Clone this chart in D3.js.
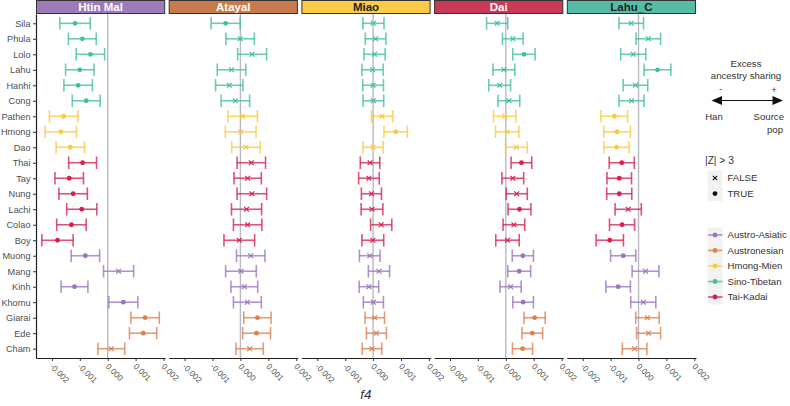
<!DOCTYPE html>
<html>
<head>
<meta charset="utf-8">
<script src="https://cdn.jsdelivr.net/npm/d3@7"></script>
<style>
  html, body { margin: 0; padding: 0; background: #fff; }
  svg { display: block; font-family: "Liberation Sans", Arial, sans-serif; }
</style>
</head>
<body>
<svg id="chart" width="790" height="406"></svg>
<script>
// ---------------- DATA ----------------
const populations = ["Sila","Phula","Lolo","Lahu","Hanhi","Cong","Pathen","Hmong","Dao",
  "Thai","Tay","Nung","Lachi","Colao","Boy","Muong","Mang","Kinh","Khomu","Giarai","Ede","Cham"];
const populationFamily = ["Sino-Tibetan","Sino-Tibetan","Sino-Tibetan","Sino-Tibetan","Sino-Tibetan","Sino-Tibetan",
  "Hmong-Mien","Hmong-Mien","Hmong-Mien",
  "Tai-Kadai","Tai-Kadai","Tai-Kadai","Tai-Kadai","Tai-Kadai","Tai-Kadai",
  "Austro-Asiatic","Austro-Asiatic","Austro-Asiatic","Austro-Asiatic",
  "Austronesian","Austronesian","Austronesian"];
const sourcePops = ["Htin Mal","Atayal","Miao","Dai","Lahu_C"];
const families = ["Austro-Asiatic","Austronesian","Hmong-Mien","Sino-Tibetan","Tai-Kadai"];
const familyColors = ["#9b74c0","#e07f4c","#fcc83e","#40bf9f","#d6214f"];
const stripColors = ["#9d7bb9","#c97a4d","#fdcb45","#c93a57","#55bda6"];
const stripTextColors = ["#ffffff","#ffffff","#222222","#ffffff","#222222"];
const xTicks = [-0.002, -0.001, 0, 0.001, 0.002];

// f4 estimates per source population (rows follow `populations`)
const f4HtinMal = [-0.00117,-0.00091,-0.00062,-0.00100,-0.00106,-0.00077,-0.00158,-0.00168,-0.00134,
  -0.00090,-0.00138,-0.00124,-0.00093,-0.00130,-0.00180,-0.00080,0.00039,-0.00119,0.00056,0.00134,0.00127,0.00013];
const f4Atayal = [-0.00053,-0.00001,0.00042,-0.00032,-0.00040,-0.00018,0.00008,0.00001,0.00020,
  0.00039,0.00026,0.00041,0.00022,0.00026,-0.00004,0.00037,0.00002,0.00014,0.00025,0.00061,0.00058,0.00033];
const f4Miao = [0.00001,0.00009,0.00005,-0.00002,0.00000,0.00001,0.00032,0.00081,0.00000,
  -0.00011,-0.00015,-0.00006,-0.00004,0.00029,-0.00001,-0.00012,0.00021,-0.00015,0.00001,0.00006,0.00012,-0.00004];
const f4Dai = [-0.00031,0.00025,0.00065,-0.00007,-0.00022,0.00011,-0.00004,0.00005,0.00038,
  0.00056,0.00025,0.00039,0.00049,0.00029,0.00006,0.00061,0.00048,0.00017,0.00062,0.00103,0.00095,0.00060];
const f4LahuC = [-0.00026,0.00035,-0.00019,0.00068,-0.00011,-0.00025,-0.00087,-0.00077,-0.00079,
  -0.00060,-0.00069,-0.00069,-0.00037,-0.00059,-0.00103,-0.00055,0.00025,-0.00073,0.00017,0.00032,0.00036,-0.00014];

// half-widths of the error bars
const ciHtinMal = [0.000545,0.00050,0.00051,0.00051,0.00051,0.00050,0.00051,0.00056,0.00051,
  0.00050,0.00051,0.00051,0.00054,0.00053,0.00056,0.00051,0.00054,0.00048,0.00052,0.00051,0.00049,0.00048];
const ciAtayal = [0.00052,0.00051,0.00052,0.00051,0.00049,0.00051,0.00053,0.00055,0.00051,
  0.00051,0.00049,0.00053,0.00054,0.00051,0.00055,0.00051,0.00055,0.00048,0.00050,0.00049,0.00050,0.00049];
const ciMiao = [0.00038,0.00037,0.00038,0.00038,0.00037,0.00037,0.00038,0.00042,0.00036,
  0.00035,0.00037,0.00036,0.00039,0.00038,0.00039,0.00037,0.00038,0.00035,0.00036,0.00035,0.00036,0.00035];
const ciDai = [0.00038,0.00037,0.00040,0.00039,0.00039,0.00039,0.00040,0.00042,0.00039,
  0.00037,0.00039,0.00038,0.00041,0.00039,0.00042,0.00038,0.00041,0.00038,0.00037,0.00038,0.00037,0.00036];
const ciLahuC = [0.00044,0.00044,0.00045,0.00048,0.00044,0.00045,0.00048,0.00048,0.00045,
  0.00045,0.00044,0.00045,0.00047,0.00045,0.00049,0.00045,0.00048,0.00044,0.00045,0.00042,0.00043,0.00044];

// |Z| > 3 flags (1 = TRUE)
const sigHtinMal = [1,1,1,1,1,1,1,1,1,1,1,1,1,1,1,1,0,1,1,1,1,0];
const sigAtayal  = [1,0,0,0,0,0,0,0,0,0,0,0,0,0,0,0,0,0,0,1,1,0];
const sigMiao    = [0,0,0,0,0,0,0,1,0,0,0,0,0,0,0,0,0,0,0,0,0,0];
const sigDai     = [0,0,1,0,0,0,0,0,0,1,0,0,1,0,0,1,1,0,1,1,1,1];
const sigLahuC   = [0,0,0,1,0,0,1,1,1,1,1,1,0,1,1,1,0,1,0,0,0,0];

const zLegend = ["FALSE","TRUE"];

// ---------------- BUILD ----------------
const f4Sets = [f4HtinMal, f4Atayal, f4Miao, f4Dai, f4LahuC];
const ciSets = [ciHtinMal, ciAtayal, ciMiao, ciDai, ciLahuC];
const sigSets = [sigHtinMal, sigAtayal, sigMiao, sigDai, sigLahuC];

const rows = [];
sourcePops.forEach((src, si) => {
  populations.forEach((pop, pi) => {
    rows.push({src, pop, fam: populationFamily[pi], v: f4Sets[si][pi], ci: ciSets[si][pi], sig: sigSets[si][pi] === 1});
  });
});

const svg = d3.select("#chart");
const plotL = 36, plotR = 696, plotT = 14, plotB = 358;

const color = d3.scaleOrdinal().domain(families).range(familyColors);
const panel = d3.scaleBand().domain(sourcePops).range([plotL, plotR]).paddingInner(0.0264).paddingOuter(0);
const y = d3.scalePoint().domain(populations).range([plotT, plotB]).padding(0.6);

const lo = d3.min(rows, d => d.v - d.ci), hi = d3.max(rows, d => d.v + d.ci);
const ex = (hi - lo) * 0.05;
const x = d3.scaleLinear().domain([lo - ex, hi + ex]).range([0, panel.bandwidth()]);

const fmt = d => d3.format(".3f")(d).replace("\u2212", "-");

sourcePops.forEach((src, si) => {
  const g = svg.append("g").attr("transform", `translate(${panel(src)},0)`);
  // zero line
  g.append("line").attr("x1", x(0)).attr("x2", x(0)).attr("y1", plotT).attr("y2", plotB)
    .attr("stroke", "#b9b9c2").attr("stroke-width", 1.4);
  // strip
  g.append("rect").attr("x", 0.5).attr("y", 0.5).attr("width", panel.bandwidth() - 1).attr("height", 13)
    .attr("fill", stripColors[si]).attr("stroke", "#333").attr("stroke-width", 1);
  g.append("text").attr("x", panel.bandwidth() / 2).attr("y", 11.2).attr("text-anchor", "middle")
    .attr("font-size", 11.5).attr("font-weight", "bold").attr("fill", stripTextColors[si]).text(src);

  const data = rows.filter(d => d.src === src);
  const eb = g.selectAll("g.eb").data(data).join("g").attr("class", "eb")
    .attr("stroke", d => color(d.fam)).attr("stroke-width", 1.6).attr("stroke-opacity", 0.78);
  eb.append("line").attr("x1", d => x(d.v - d.ci)).attr("x2", d => x(d.v + d.ci))
    .attr("y1", d => y(d.pop)).attr("y2", d => y(d.pop));
  eb.append("line").attr("x1", d => x(d.v - d.ci)).attr("x2", d => x(d.v - d.ci))
    .attr("y1", d => y(d.pop) - 6.3).attr("y2", d => y(d.pop) + 6.3);
  eb.append("line").attr("x1", d => x(d.v + d.ci)).attr("x2", d => x(d.v + d.ci))
    .attr("y1", d => y(d.pop) - 6.3).attr("y2", d => y(d.pop) + 6.3);

  g.selectAll("circle.pt").data(data.filter(d => d.sig)).join("circle").attr("class", "pt")
    .attr("cx", d => x(d.v)).attr("cy", d => y(d.pop)).attr("r", 2.4).attr("fill", d => color(d.fam));
  const cr = g.selectAll("path.cr").data(data.filter(d => !d.sig)).join("path").attr("class", "cr")
    .attr("d", d => { const cx = x(d.v), cy = y(d.pop), s = 2.4;
      return `M${cx - s},${cy - s}L${cx + s},${cy + s}M${cx - s},${cy + s}L${cx + s},${cy - s}`; })
    .attr("stroke", d => color(d.fam)).attr("stroke-width", 1.2).attr("fill", "none");

  // x axis
  const ax = g.append("g").attr("transform", `translate(0,${plotB})`)
    .call(d3.axisBottom(x).tickValues(xTicks).tickFormat(fmt).tickSize(3).tickSizeOuter(0));
  ax.select(".domain").attr("stroke", "#222").attr("stroke-width", 1.2);
  ax.selectAll(".tick line").attr("stroke", "#333");
  ax.selectAll(".tick text").attr("fill", "#555").attr("font-size", 8.2)
    .attr("font-family", "Liberation Sans, Arial, sans-serif")
    .attr("text-anchor", "start").attr("x", 0).attr("y", 0).attr("dy", "0.35em")
    .attr("transform", "translate(-1,7) rotate(45)");

  if (si === 0) {
    const ay = g.append("g").call(d3.axisLeft(y).tickSize(3).tickSizeOuter(0));
    ay.select(".domain").attr("stroke", "#222").attr("stroke-width", 1.2);
    ay.selectAll(".tick line").attr("stroke", "#333");
    ay.selectAll(".tick text").attr("fill", "#4d4d4d").attr("font-size", 9.2)
      .attr("font-family", "Liberation Sans, Arial, sans-serif").attr("x", -5.5);
  }
});

// x title
svg.append("text").attr("x", (plotL + plotR) / 2).attr("y", 399).attr("text-anchor", "middle")
  .attr("font-size", 13.5).attr("font-style", "italic").attr("fill", "#333").text("f4");

// ---------------- LEGEND ----------------
const lg = svg.append("g").attr("fill", "#333").attr("font-size", 9.6);
lg.append("text").attr("x", 746).attr("y", 66.5).attr("text-anchor", "middle").text("Excess");
lg.append("text").attr("x", 746).attr("y", 78.5).attr("text-anchor", "middle").text("ancestry sharing");
lg.append("text").attr("x", 720.5).attr("y", 92).attr("text-anchor", "middle").text("-");
lg.append("text").attr("x", 774).attr("y", 92.5).attr("text-anchor", "middle").text("+");
svg.append("line").attr("x1", 718).attr("x2", 776).attr("y1", 100.5).attr("y2", 100.5)
  .attr("stroke", "#111").attr("stroke-width", 1);
svg.append("path").attr("d", "M711.5,100.5L722,96L722,105Z").attr("fill", "#111");
svg.append("path").attr("d", "M783,100.5L772.5,96L772.5,105Z").attr("fill", "#111");
lg.append("text").attr("x", 714).attr("y", 120).attr("text-anchor", "middle").text("Han");
lg.append("text").attr("x", 784).attr("y", 120).attr("text-anchor", "end").text("Source");
lg.append("text").attr("x", 783).attr("y", 132.5).attr("text-anchor", "end").text("pop");

lg.append("text").attr("x", 705).attr("y", 163.5).attr("font-size", 10.2).text("|Z| > 3");
zLegend.forEach((lab, i) => {
  const cy = 178 + i * 15.6;
  svg.append("rect").attr("x", 707.5).attr("y", cy - 7.5).attr("width", 15).attr("height", 15).attr("fill", "#f2f2f2");
  if (lab === "TRUE") {
    svg.append("circle").attr("cx", 715).attr("cy", cy).attr("r", 2.4).attr("fill", "#111");
  } else {
    svg.append("path").attr("d", `M712.8,${cy - 2.2}L717.2,${cy + 2.2}M712.8,${cy + 2.2}L717.2,${cy - 2.2}`)
      .attr("stroke", "#111").attr("stroke-width", 1.1);
  }
  lg.append("text").attr("x", 727.5).attr("y", cy + 3.4).text(lab);
});

families.forEach((fam, i) => {
  const cy = 235 + i * 15.5;
  svg.append("rect").attr("x", 707.5).attr("y", cy - 7.5).attr("width", 15).attr("height", 15).attr("fill", "#f2f2f2");
  svg.append("line").attr("x1", 708).attr("x2", 722.5).attr("y1", cy).attr("y2", cy)
    .attr("stroke", color(fam)).attr("stroke-width", 1.6).attr("stroke-opacity", 0.8);
  svg.append("circle").attr("cx", 715).attr("cy", cy).attr("r", 2.4).attr("fill", color(fam));
  lg.append("text").attr("x", 727.5).attr("y", cy + 3.4).text(fam);
});
</script>
</body>
</html>
